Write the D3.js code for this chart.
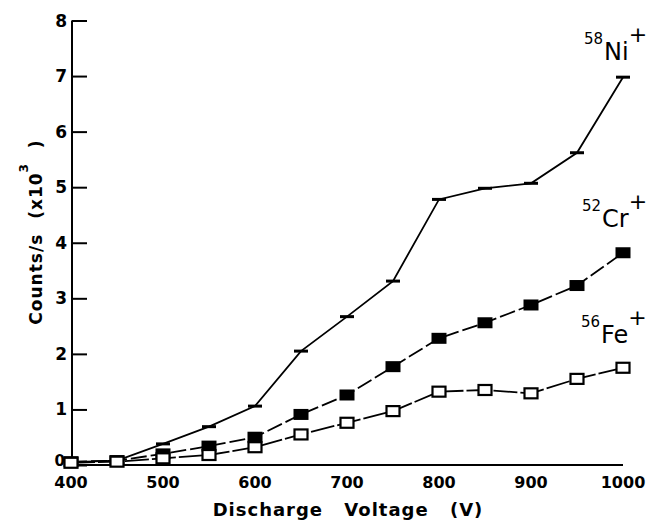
<!DOCTYPE html>
<html><head><meta charset="utf-8">
<script src="https://cdn.jsdelivr.net/npm/d3@7"></script>
<style>
html,body{margin:0;padding:0;background:#fff;}
svg{display:block;}
text{font-family:"DejaVu Sans",sans-serif;fill:#000;}
</style></head>
<body>
<script>
const voltages = [400,450,500,550,600,650,700,750,800,850,900,950,1000];
const ni = [0.05,0.08,0.38,0.69,1.06,2.05,2.67,3.31,4.78,4.98,5.07,5.62,6.98];
const cr = [0.06,0.08,0.2,0.34,0.5,0.91,1.26,1.77,2.28,2.56,2.88,3.23,3.82];
const fe = [0.04,0.06,0.12,0.18,0.32,0.55,0.76,0.97,1.32,1.35,1.29,1.55,1.75];
const xTicks = [400,500,600,700,800,900,1000];
const yTicks = [0,1,2,3,4,5,6,7,8];

const W=650,H=529;
const svg=d3.select("body").append("svg").attr("width",W).attr("height",H);
const x=d3.scaleLinear().domain([400,1000]).range([71,623]);
const y=d3.scaleLinear().domain([0,8]).range([465,20.5]);

// axes
const yAxis=d3.axisRight(y).tickValues(yTicks).tickSize(15).tickFormat("");
const gy=svg.append("g").attr("transform","translate(72,0)").call(yAxis);
gy.selectAll("path,line").attr("stroke","#000").attr("stroke-width",2);
gy.select(".domain").attr("d",`M0,${y(8)}H0V${y(0)}`);
svg.selectAll(".ylab").data(yTicks).join("text").attr("class","ylab")
  .attr("x",d=>d===0?65:67).attr("y",d=>d===0?y(d)+1:y(d)+6).attr("text-anchor","end")
  .attr("font-size",d=>d===0?15:17).attr("font-weight","bold").text(d=>d);

const xAxis=d3.axisBottom(x).tickValues(xTicks).tickSize(0).tickFormat("");
const gx=svg.append("g").attr("transform",`translate(0,${y(0)})`).call(xAxis);
gx.select(".domain").attr("stroke","#000").attr("stroke-width",2).attr("d",`M${x(400)},0H${x(1000)}`);
svg.selectAll(".xlab").data(xTicks).join("text").attr("class","xlab")
  .attr("x",d=>x(d)).attr("y",488).attr("text-anchor","middle")
  .attr("font-size",16).attr("font-weight","bold").text(d=>d);

// axis titles
svg.append("text").attr("x",(x(400)+x(1000))/2+1).attr("y",516).attr("text-anchor","middle")
  .attr("font-size",18).attr("font-weight","bold").style("word-spacing","14px").style("letter-spacing","1px")
  .text("Discharge Voltage (V)");
const yt=svg.append("text").attr("transform","translate(42,232) rotate(-90)").attr("text-anchor","middle")
  .attr("font-size",17).attr("font-weight","bold").style("word-spacing","8px").style("letter-spacing","1px");
yt.append("tspan").text("Counts/s (x10");
yt.append("tspan").attr("font-size",12).attr("dy",-14).text("3");
yt.append("tspan").attr("dy",14).text(" )");

const line=d3.line().x((d,i)=>x(voltages[i])).y(d=>y(d));

// lines
svg.append("path").datum(ni).attr("d",line).attr("fill","none").attr("stroke","#000").attr("stroke-width",1.8);
svg.append("path").datum(cr).attr("d",line).attr("fill","none").attr("stroke","#000").attr("stroke-width",1.8).attr("stroke-dasharray","16,4");
svg.append("path").datum(fe).attr("d",line).attr("fill","none").attr("stroke","#000").attr("stroke-width",1.8).attr("stroke-dasharray","24,3");

// markers
svg.selectAll(".nim").data(ni).join("rect").attr("class","nim")
  .attr("x",(d,i)=>x(voltages[i])-7).attr("y",d=>y(d)-1.5).attr("width",14).attr("height",3).attr("fill","#000");
svg.selectAll(".crm").data(cr).join("rect").attr("class","crm")
  .attr("x",(d,i)=>x(voltages[i])-7.5).attr("y",d=>y(d)-5.5).attr("width",15).attr("height",11).attr("fill","#000");
svg.selectAll(".fem").data(fe).join("rect").attr("class","fem")
  .attr("x",(d,i)=>x(voltages[i])-6.5).attr("y",d=>y(d)-5).attr("width",13).attr("height",10)
  .attr("fill","#fff").attr("stroke","#000").attr("stroke-width",2.2);

// species labels
function species(xp,yp,mass,sym){
  const t=svg.append("text").attr("x",xp).attr("y",yp).attr("font-size",24);
  t.append("tspan").attr("font-size",15).attr("dy",-16).text(mass);
  t.append("tspan").attr("dx",1).attr("dy",16).text(sym);
  t.append("tspan").attr("font-size",22).attr("dy",-18).text("+");
}
species(584,60,"58","Ni");
species(582,227,"52","Cr");
species(581,343,"56","Fe");
</script>
</body></html>
